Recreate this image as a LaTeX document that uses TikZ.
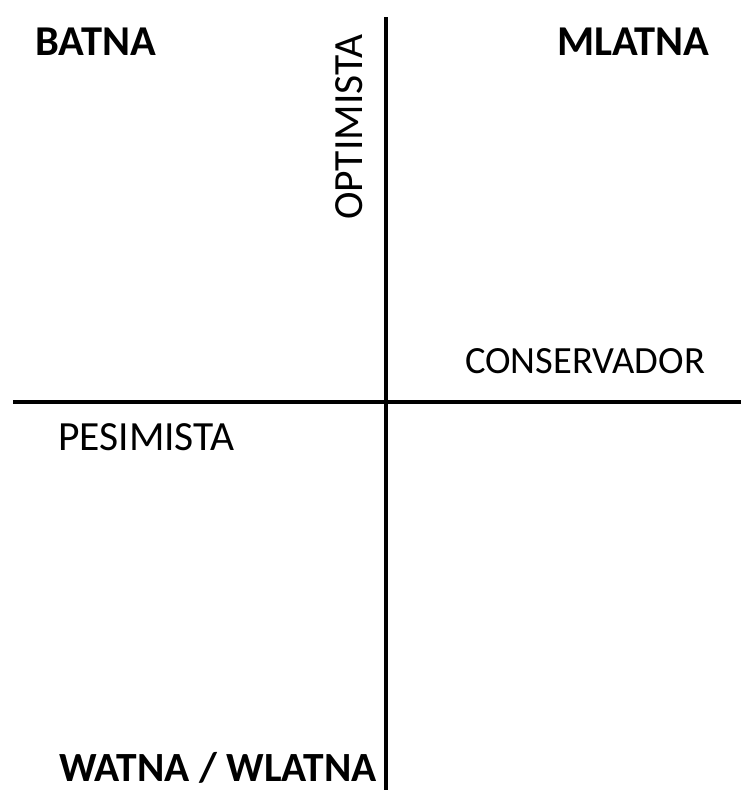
\documentclass[tikz,border=0pt]{standalone}
\usepackage{fontspec}
\setmainfont{Carlito}
\usetikzlibrary{positioning}

\begin{document}
\begin{tikzpicture}[x=1pt, y=-1pt,
      lbl/.style={inner sep=0pt, anchor=base west, font=\fontsize{41.5}{45}\selectfont},
      key/.style={lbl, font=\fontsize{42.5}{46}\selectfont\bfseries},
      axis/.style={line width=3.5pt, black}
    ]
      \useasboundingbox (0,0) rectangle (741,790);

      % axes
      \coordinate (top) at (386,17);
      \coordinate (bottom) at (386,790);
      \coordinate (left) at (13,402);
      \coordinate (right) at (741,402);
      \draw[axis] (top) -- (bottom);
      \draw[axis] (left) -- (right);

      % quadrant names
      \node[key] (batna) at (35,55) {BATNA};
      \node[key] (mlatna) at (557,55) {MLATNA};
      \node[key, font=\fontsize{41.5}{45}\selectfont\bfseries] (watna) at (59,781) {WATNA / WLATNA};

      % axis labels
      \node[lbl, rotate=90] (opt) at (362,220) {OPTIMISTA};
      \node[lbl, font=\fontsize{38.5}{42}\selectfont] (cons) at (465,373) {CONSERVADOR};
      \node[lbl] (pes) at (58,450) {PESIMISTA};
    \end{tikzpicture}
\end{document}
